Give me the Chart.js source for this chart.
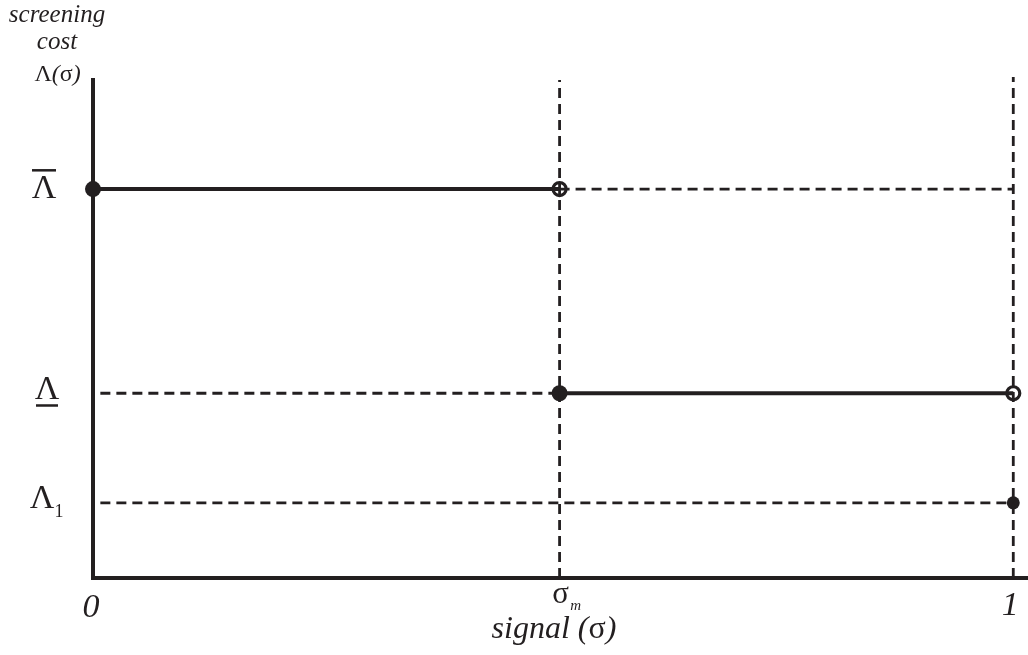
<!DOCTYPE html>
<html>
<head>
<meta charset="utf-8">
<title>Screening cost</title>
<script src="https://cdn.jsdelivr.net/npm/chart.js@4/dist/chart.umd.min.js"></script>
<style>
  html, body { margin: 0; padding: 0; background: #fff; }
  #chart { display: block; }
</style>
</head>
<body>
<canvas id="chart" width="1028" height="655"></canvas>
<script>
// valores (eje x: señal, eje y: coste)
const sigmaTicks = [0, 0.507, 1];          // 0, sigma_m, 1
const sigmaTickLabels = ['0', 'σ', '1'];
const costLevels = [0.781, 0.371, 0.151];  // Λ barra, Λ subrayada, Λ1
const costLabels = ['Λ', 'Λ', 'Λ'];

const SIGMA_M = sigmaTicks[1];
const LAMBDA_BAR = costLevels[0];
const LAMBDA_LOW = costLevels[1];
const LAMBDA_1 = costLevels[2];

const INK = '#231f20';
const DASH = [10, 6];

// segmentos sólidos de la función
const upperStep = [{ x: 0, y: LAMBDA_BAR }, { x: SIGMA_M, y: LAMBDA_BAR }];
const lowerStep = [{ x: SIGMA_M, y: LAMBDA_LOW }, { x: 1, y: LAMBDA_LOW }];

// líneas guía discontinuas
const guideSigmaM = [{ x: SIGMA_M, y: 0 }, { x: SIGMA_M, y: 1 }];
const guideOne = [{ x: 1, y: 0 }, { x: 1, y: 1.006 }];
const guideUpper = [{ x: SIGMA_M, y: LAMBDA_BAR }, { x: 1, y: LAMBDA_BAR }];
const guideLow = [{ x: 0.008, y: LAMBDA_LOW }, { x: SIGMA_M, y: LAMBDA_LOW }];
const guideL1 = [{ x: 0.008, y: LAMBDA_1 }, { x: 1, y: LAMBDA_1 }];

// puntos: llenos y vacíos
const filledDots = [{ x: 0, y: LAMBDA_BAR }, { x: SIGMA_M, y: LAMBDA_LOW }];
const smallDot = [{ x: 1, y: LAMBDA_1 }];
const openDots = [{ x: SIGMA_M, y: LAMBDA_BAR }, { x: 1, y: LAMBDA_LOW }];

function dashed(data) {
    return { type: 'line', data: data, borderColor: INK, borderWidth: 2.8, borderDash: DASH, pointRadius: 0, fill: false };
}
function solid(data) {
    return { type: 'line', data: data, borderColor: INK, borderWidth: 4, pointRadius: 0, fill: false };
}

// Dibuja etiquetas de ejes y textos con las escalas del gráfico
const labelsPlugin = {
    id: 'labels',
    afterDraw(chart) {
        const ctx = chart.ctx;
        const xs = chart.scales.x;
        const ys = chart.scales.y;
        ctx.save();
        ctx.fillStyle = INK;
        ctx.strokeStyle = INK;
        ctx.textBaseline = 'alphabetic';
        ctx.textAlign = 'center';

        // título del eje y
        ctx.font = 'italic 25px "Liberation Serif"';
        ctx.fillText('screening', 57, 22);
        ctx.fillText('cost', 57, 49);
        ctx.font = '24px "Liberation Serif"';
        const lw = ctx.measureText('Λ').width;
        ctx.font = 'italic 24px "Liberation Serif"';
        const pw = ctx.measureText('(σ)').width;
        let sx = 57 - (lw + pw) / 2;
        ctx.textAlign = 'left';
        ctx.font = '24px "Liberation Serif"';
        ctx.fillText('Λ', sx, 81);
        ctx.font = 'italic 24px "Liberation Serif"';
        ctx.fillText('(', sx + lw, 81);
        const ow = ctx.measureText('(').width;
        ctx.font = '24px "Liberation Serif"';
        ctx.fillText('σ', sx + lw + ow, 81);
        const sw = ctx.measureText('σ').width;
        ctx.font = 'italic 24px "Liberation Serif"';
        ctx.fillText(')', sx + lw + ow + sw, 81);

        // etiquetas del eje y
        ctx.textAlign = 'center';
        ctx.font = '34px "Liberation Serif"';
        const yBar = ys.getPixelForValue(LAMBDA_BAR);
        ctx.fillText(costLabels[0], 44, yBar + 9);
        ctx.fillRect(32, yBar - 20, 24, 2.5);

        const yLow = ys.getPixelForValue(LAMBDA_LOW);
        ctx.fillText(costLabels[1], 47, yLow + 6);
        ctx.fillRect(36, yLow + 11, 22, 2.5);

        const y1 = ys.getPixelForValue(LAMBDA_1);
        ctx.fillText(costLabels[2], 42, y1 + 5);
        ctx.font = '18px "Liberation Serif"';
        ctx.fillText('1', 59, y1 + 14);

        // etiquetas del eje x
        ctx.font = 'italic 34px "Liberation Serif"';
        ctx.fillText(sigmaTickLabels[0], xs.getPixelForValue(sigmaTicks[0]) - 2, 617);
        ctx.fillText(sigmaTickLabels[2], xs.getPixelForValue(sigmaTicks[2]) - 3, 615);
        const xm = xs.getPixelForValue(sigmaTicks[1]);
        ctx.font = '31px "Liberation Serif"';
        ctx.fillText(sigmaTickLabels[1], xm + 1, 603);
        ctx.font = 'italic 15px "Liberation Serif"';
        ctx.fillText('m', xm + 16, 610);

        // título del eje x
        ctx.font = 'italic 32px "Liberation Serif"';
        ctx.textAlign = 'left';
        const t1 = 'signal (';
        const w1 = ctx.measureText(t1).width;
        ctx.font = '32px "Liberation Serif"';
        const w2 = ctx.measureText('σ').width;
        ctx.font = 'italic 32px "Liberation Serif"';
        const w3 = ctx.measureText(')').width;
        let tx = 554 - (w1 + w2 + w3) / 2;
        ctx.fillText(t1, tx, 638);
        ctx.font = '32px "Liberation Serif"';
        ctx.fillText('σ', tx + w1, 638);
        ctx.font = 'italic 32px "Liberation Serif"';
        ctx.fillText(')', tx + w1 + w2, 638);
        ctx.restore();
    }
};

new Chart(document.getElementById('chart'), {
    type: 'line',
    data: {
        datasets: [
            dashed(guideSigmaM),
            dashed(guideOne),
            dashed(guideUpper),
            dashed(guideLow),
            dashed(guideL1),
            solid(upperStep),
            solid(lowerStep),
            { type: 'scatter', data: filledDots, pointRadius: 8, pointBackgroundColor: INK, pointBorderColor: INK, pointBorderWidth: 0 },
            { type: 'scatter', data: smallDot, pointRadius: 6.5, pointBackgroundColor: INK, pointBorderColor: INK, pointBorderWidth: 0 },
            { type: 'scatter', data: openDots, pointRadius: 6.5, pointBackgroundColor: '#fff', pointBorderColor: INK, pointBorderWidth: 3.2 }
        ]
    },
    options: {
        responsive: false,
        animation: false,
        clip: false,
        layout: { autoPadding: false, padding: { left: 93, top: 80, right: 0, bottom: 77 } },
        plugins: { legend: { display: false }, tooltip: { enabled: false } },
        scales: {
            x: {
                type: 'linear', min: 0, max: 1.016,
                ticks: { display: false },
                grid: { display: false, drawTicks: false },
                border: { display: true, width: 4, color: INK }
            },
            y: {
                type: 'linear', min: 0, max: 1,
                ticks: { display: false },
                grid: { display: false, drawTicks: false },
                border: { display: true, width: 4, color: INK }
            }
        }
    },
    plugins: [labelsPlugin]
});
</script>
</body>
</html>
